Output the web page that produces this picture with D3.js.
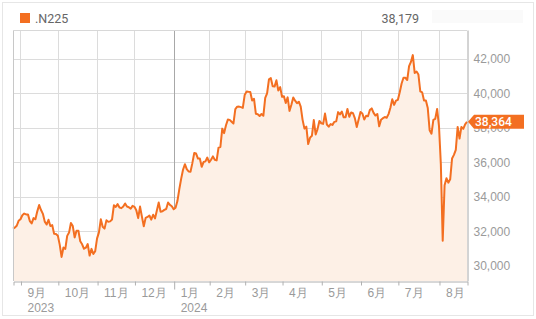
<!DOCTYPE html>
<html>
<head>
<meta charset="utf-8">
<script src="https://cdn.jsdelivr.net/npm/d3@7"></script>
<style>
  body { margin: 0; background: #fff; }
  svg { display: block; font-family: Roboto, "Noto Sans CJK JP", sans-serif; }
</style>
</head>
<body>
<svg id="chart" width="536" height="319"></svg>
<script>
// Nikkei 225 daily closes, 2023-08-28 .. 2024-08-23 (one value per trading day)
const closes = [
  // Aug 2023
  32170, 32227, 32333, 32619,
  // Sep
  32711, 32940, 33036, 32991, 32991, 32607, 32467, 32776, 32707, 33168,
  33533, 33243, 33023, 32571, 32402, 32678, 32315, 32371, 31872, 31858,
  // Oct
  31759, 31237, 30527, 31075, 30995, 31746, 31936, 32494, 32316, 31659,
  32041, 32042, 31431, 31259, 30999, 31062, 31270, 30602, 30991, 30697, 30859,
  // Nov
  31601, 31950, 32708, 32272, 32166, 32646, 32568, 32586, 32695, 33520,
  33424, 33585, 33388, 33354, 33452, 33625, 33447, 33408, 33321, 33486,
  // Dec
  33431, 33231, 32775, 33445, 32858, 32307, 32791, 32843, 32926, 32686,
  32970, 32758, 33219, 33675, 33141, 33169, 33254, 33305, 33681, 33540, 33464,
  // Jan 2024
  33288, 33377, 33763, 34441, 35049, 35577, 35901, 35619, 35477, 35466,
  35963, 36546, 36517, 36226, 36236, 35751, 36026, 36066, 36287,
  // Feb
  36011, 36158, 36354, 36160, 36119, 36863, 36897, 37963, 37703, 38157,
  38487, 38470, 38364, 38262, 39098, 39233, 39239, 39208, 39166,
  // Mar
  39910, 40109, 40097, 40090, 39598, 39688, 38820, 38797, 38695, 38807,
  38707, 39740, 40004, 40816, 40888, 40414, 40398, 40763, 40168, 40369,
  // Apr
  39803, 39838, 39451, 39773, 38992, 39347, 39773, 39582, 39442, 39523,
  39233, 38471, 37962, 38079, 37068, 37438, 37552, 38460, 37628, 37934, 38405,
  // May
  38274, 38236, 38835, 38202, 38073, 38229, 38179, 38356, 38385, 38920,
  38787, 38946, 38617, 38617, 39103, 38646, 38900, 38855, 38556, 38054, 38487,
  // Jun
  38923, 38837, 38490, 38703, 38683, 39038, 39134, 38876, 38720, 38814,
  38102, 38482, 38570, 38633, 38596, 38804, 39173, 39667, 39341, 39583,
  // Jul
  39631, 40074, 40580, 40913, 40912, 40781, 41580, 41831, 42224, 41191,
  41275, 41097, 40126, 40064, 39599, 39594, 39154, 37869, 37667, 38468, 38526, 39102,
  // Aug
  38126, 35910, 31458, 34675, 35090, 34831, 35025, 36233, 36442, 36727,
  38063, 37389, 38063, 37951, 38211, 38364
];

// first trading day of each month (index into closes)
const monthStarts = [4, 24, 45, 65, 86, 105, 124, 144, 165, 186, 206, 228];
const monthLabels = ['9月', '10月', '11月', '12月', '1月', '2月', '3月', '4月', '5月', '6月', '7月', '8月'];
const yearLabels = {4: '2023', 86: '2024'};
const yTicks = [30000, 32000, 34000, 36000, 38000, 40000, 42000];
const seriesName = '.N225';
const headerValue = '38,179';

const orange = '#f36f21';
const fmt = d3.format(',');

const svg = d3.select('#chart');
const plot = {left: 13, right: 467, top: 30, bottom: 281};

const x = d3.scaleLinear().domain([0, closes.length - 1]).range([plot.left, plot.right]);
const y = d3.scaleLinear().domain([29130, 43680]).range([plot.bottom, plot.top]);

// outer frame
svg.append('rect')
  .attr('x', 2.5).attr('y', 2.5).attr('width', 531).attr('height', 313)
  .attr('fill', 'none').attr('stroke', '#e6e6e6');

// header / legend
svg.append('rect').attr('x', 20).attr('y', 13).attr('width', 10).attr('height', 10).attr('fill', orange);
svg.append('text').attr('x', 35).attr('y', 23)
  .attr('font-size', 12.5).attr('fill', '#666').text(seriesName);
svg.append('text').attr('x', 419).attr('y', 23).attr('text-anchor', 'end')
  .attr('font-size', 12.5).attr('fill', '#666').text(headerValue);
svg.append('rect').attr('x', 432).attr('y', 10).attr('width', 91).attr('height', 13)
  .attr('fill', '#fafafa');

// grid
const grid = svg.append('g');
grid.selectAll('.hg').data(yTicks).enter().append('line')
  .attr('x1', plot.left).attr('x2', plot.right)
  .attr('y1', d => Math.round(y(d)) + 0.5).attr('y2', d => Math.round(y(d)) + 0.5)
  .attr('stroke', '#dcdcdc');
grid.selectAll('.vg').data(monthStarts).enter().append('line')
  .attr('x1', d => Math.round(x(d)) + 0.5).attr('x2', d => Math.round(x(d)) + 0.5)
  .attr('y1', plot.top).attr('y2', plot.bottom)
  .attr('stroke', d => yearLabels[d] && d !== monthStarts[0] ? '#a8a8a8' : '#dcdcdc');

// area + line
const area = d3.area().x((d, i) => x(i)).y0(plot.bottom).y1(d => y(d));
const line = d3.line().x((d, i) => x(i)).y(d => y(d));

svg.append('path').datum(closes).attr('d', area).attr('fill', '#fdf0e6');
svg.append('path').datum(closes).attr('d', line)
  .attr('fill', 'none').attr('stroke', orange).attr('stroke-width', 2)
  .attr('stroke-linejoin', 'round');

// plot borders
svg.append('line').attr('x1', plot.left + 0.5).attr('x2', plot.left + 0.5)
  .attr('y1', plot.top).attr('y2', plot.bottom).attr('stroke', '#c8c8c8');
svg.append('line').attr('x1', plot.left).attr('x2', plot.right)
  .attr('y1', plot.top + 0.5).attr('y2', plot.top + 0.5).attr('stroke', '#d8d8d8');

// x axis
const xAxis = svg.append('g')
  .attr('transform', `translate(0.5,${plot.bottom + 0.5})`)
  .call(d3.axisBottom(x).tickValues(monthStarts).tickSizeOuter(0).tickSize(4)
    .tickFormat((d, i) => monthLabels[i]));
xAxis.select('.domain').attr('stroke', '#b0b0b0');
xAxis.selectAll('.tick line').attr('stroke', '#b0b0b0')
  .attr('y2', d => (yearLabels[d] && d !== monthStarts[0]) ? 8 : 4);
xAxis.selectAll('.tick text')
  .attr('text-anchor', 'start').attr('x', 6).attr('y', 0).attr('dy', 15)
  .attr('font-size', 12).attr('font-family', null).attr('fill', '#9a9a9a');
xAxis.selectAll('.tick').filter(d => yearLabels[d]).append('text')
  .attr('x', 6).attr('y', 0).attr('dy', 30)
  .attr('font-size', 12).attr('fill', '#9a9a9a').attr('text-anchor', 'start')
  .text(d => yearLabels[d]);

// y axis (right)
const yAxis = svg.append('g')
  .attr('transform', `translate(${plot.right + 0.5},0)`)
  .call(d3.axisRight(y).tickValues(yTicks).tickSize(0).tickSizeOuter(0).tickFormat(fmt));
yAxis.select('.domain').attr('stroke', '#a8a8a8');
yAxis.selectAll('.tick text').attr('x', 6).attr('font-size', 12)
  .attr('font-family', null).attr('fill', '#9a9a9a');

// last value tag
const last = closes[closes.length - 1];
const ly = y(last);
const tag = svg.append('g');
tag.append('path')
  .attr('d', `M${plot.right + 1},${ly} L${plot.right + 7},${ly - 7} L${plot.right + 57},${ly - 7} L${plot.right + 57},${ly + 7} L${plot.right + 7},${ly + 7} Z`)
  .attr('fill', orange);
tag.append('text').attr('x', plot.right + 8).attr('y', ly).attr('dy', '0.35em')
  .attr('font-size', 12).attr('font-weight', 500).attr('fill', '#fff')
  .text(fmt(last));
</script>
</body>
</html>
